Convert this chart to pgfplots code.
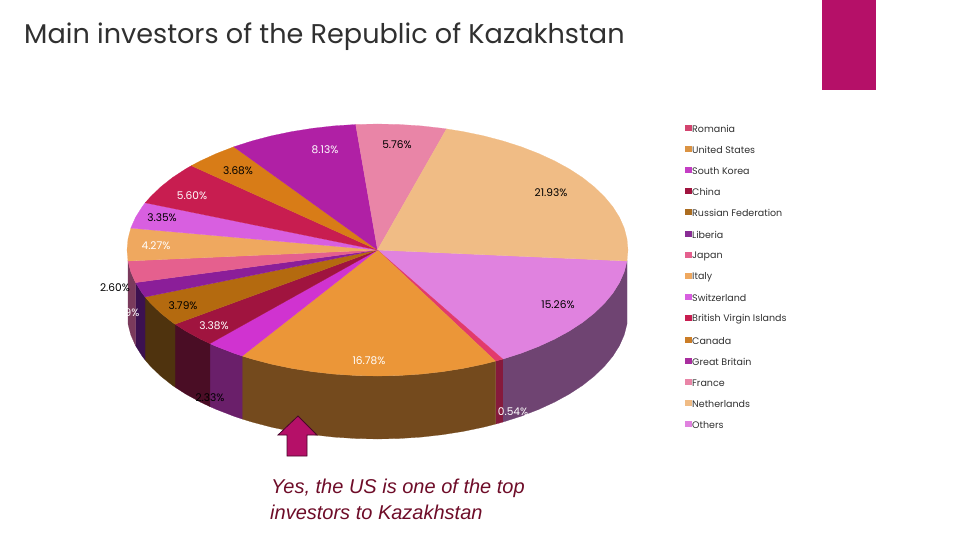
\documentclass[border=0pt]{standalone}
\usepackage{fontspec}
\setmainfont{Poppins}
\newfontfamily\arialf{Liberation Sans}
\usepackage{pgfplots}
\pgfplotsset{compat=1.18}
\definecolor{cOthers}{HTML}{E082DF}
\definecolor{cNeth}{HTML}{F0BC85}
\definecolor{cFrance}{HTML}{E985A7}
\definecolor{cGB}{HTML}{B020A5}
\definecolor{cCanada}{HTML}{D87C17}
\definecolor{cBVI}{HTML}{C81D50}
\definecolor{cSwitz}{HTML}{D85FE0}
\definecolor{cItaly}{HTML}{EFA85F}
\definecolor{cJapan}{HTML}{E5608E}
\definecolor{cLiberia}{HTML}{8B1E99}
\definecolor{cRussia}{HTML}{B46A0F}
\definecolor{cChina}{HTML}{A0143F}
\definecolor{cSK}{HTML}{D033D0}
\definecolor{cUS}{HTML}{EB9638}
\definecolor{cRomania}{HTML}{E23A6C}
\definecolor{sOthers}{HTML}{6F4472}
\definecolor{sRomania}{HTML}{861A3C}
\definecolor{sUS}{HTML}{744A1D}
\definecolor{sSK}{HTML}{6A1F6A}
\definecolor{sChina}{HTML}{4A0D25}
\definecolor{sRussia}{HTML}{4F330E}
\definecolor{sLiberia}{HTML}{3C1150}
\definecolor{sJapan}{HTML}{7A3A5C}
\definecolor{accent}{HTML}{B51068}
\definecolor{capt}{HTML}{6E0C28}
\definecolor{txt}{HTML}{303030}
\newcommand\lab[4][black]{\node[text=#1,font=\fontsize{10.6}{11}\selectfont,inner sep=0pt,anchor=center,yshift=-1pt] at (axis cs:#2,#3) {#4};}
\newcommand\leg[3]{\addplot[only marks,mark=square*,mark size=2.8pt,mark options={draw=#3,fill=#3,line width=0pt}] coordinates {(688.5,#1)};
\node[text=txt,font=\fontsize{9.5}{10}\selectfont,inner sep=0pt,anchor=west,yshift=-1pt] at (axis cs:692,#1) {#2};}
\begin{document}
\begin{tikzpicture}
\path[use as bounding box] (0,0) rectangle (960pt,540pt);
\begin{axis}[at={(0,0)},anchor=south west,scale only axis,width=960pt,height=540pt,xmin=0,xmax=960,ymin=0,ymax=540,y dir=reverse,axis lines=none,clip=false]
% side walls
\addplot[fill=sOthers,draw=sOthers,line width=0.2pt] coordinates {(627,261)(624.2,271.9)(619.5,282.6)(612.9,293.1)(604.5,303.2)(594.4,313)(582.7,322.3)(569.4,331)(554.6,339.1)(538.5,346.5)(521.2,353.2)(502.8,359.1)(502.8,422.1)(521.2,416.2)(538.5,409.5)(554.6,402.1)(569.4,394)(582.7,385.3)(594.4,376)(604.5,366.2)(612.9,356.1)(619.5,345.6)(624.2,334.9)(627,324)} -- cycle;
\addplot[fill=sRomania,draw=sRomania,line width=0.2pt] coordinates {(502.8,359.1)(495.5,361.1)(495.5,424.1)(502.8,422.1)} -- cycle;
\addplot[fill=sUS,draw=sUS,line width=0.2pt] coordinates {(495.5,361.1)(483.4,364.2)(463.2,368.4)(442.3,371.7)(421,374.1)(399.3,375.5)(377.5,376)(355.7,375.5)(334,374.1)(312.7,371.7)(291.8,368.4)(271.6,364.2)(252.2,359.1)(242.2,356)(242.2,419)(252.2,422.1)(271.6,427.2)(291.8,431.4)(312.7,434.7)(334,437.1)(355.7,438.5)(377.5,439)(399.3,438.5)(421,437.1)(442.3,434.7)(463.2,431.4)(483.4,427.2)(495.5,424.1)} -- cycle;
\addplot[fill=sSK,draw=sSK,line width=0.2pt] coordinates {(242.2,356)(233.8,353.2)(216.5,346.5)(209.9,343.6)(209.9,406.6)(216.5,409.5)(233.8,416.2)(242.2,419)} -- cycle;
\addplot[fill=sChina,draw=sChina,line width=0.2pt] coordinates {(209.9,343.6)(200.4,339.1)(185.6,331)(175.1,324.2)(175.1,387.2)(185.6,394)(200.4,402.1)(209.9,406.6)} -- cycle;
\addplot[fill=sRussia,draw=sRussia,line width=0.2pt] coordinates {(175.1,324.2)(172.3,322.3)(160.6,313)(150.5,303.2)(145.1,297)(145.1,360)(150.5,366.2)(160.6,376)(172.3,385.3)(175.1,387.2)} -- cycle;
\addplot[fill=sLiberia,draw=sLiberia,line width=0.2pt] coordinates {(145.1,297)(142.1,293.1)(135.5,282.6)(135.5,345.6)(142.1,356.1)(145.1,360)} -- cycle;
\addplot[fill=sJapan,draw=sJapan,line width=0.2pt] coordinates {(135.5,282.6)(130.8,271.9)(128,261)(128,324)(130.8,334.9)(135.5,345.6)} -- cycle;
% top slices
\addplot[fill=cOthers,draw=cOthers,line width=0.2pt] coordinates {(377.5,250)(627,261)(624.2,271.9)(619.5,282.6)(612.9,293.1)(604.5,303.2)(594.4,313)(582.7,322.3)(569.4,331)(554.6,339.1)(538.5,346.5)(521.2,353.2)(502.8,359.1)} -- cycle;
\addplot[fill=cRomania,draw=cRomania,line width=0.2pt] coordinates {(377.5,250)(502.8,359.1)(495.5,361.1)} -- cycle;
\addplot[fill=cUS,draw=cUS,line width=0.2pt] coordinates {(377.5,250)(495.5,361.1)(483.4,364.2)(463.2,368.4)(442.3,371.7)(421,374.1)(399.3,375.5)(377.5,376)(355.7,375.5)(334,374.1)(312.7,371.7)(291.8,368.4)(271.6,364.2)(252.2,359.1)(242.2,356)} -- cycle;
\addplot[fill=cSK,draw=cSK,line width=0.2pt] coordinates {(377.5,250)(242.2,356)(233.8,353.2)(216.5,346.5)(209.9,343.6)} -- cycle;
\addplot[fill=cChina,draw=cChina,line width=0.2pt] coordinates {(377.5,250)(209.9,343.6)(200.4,339.1)(185.6,331)(175.1,324.2)} -- cycle;
\addplot[fill=cRussia,draw=cRussia,line width=0.2pt] coordinates {(377.5,250)(175.1,324.2)(172.3,322.3)(160.6,313)(150.5,303.2)(145.1,297)} -- cycle;
\addplot[fill=cLiberia,draw=cLiberia,line width=0.2pt] coordinates {(377.5,250)(145.1,297)(142.1,293.1)(135.5,282.6)} -- cycle;
\addplot[fill=cJapan,draw=cJapan,line width=0.2pt] coordinates {(377.5,250)(135.5,282.6)(130.8,271.9)(128,261)} -- cycle;
\addplot[fill=cItaly,draw=cItaly,line width=0.2pt] coordinates {(377.5,250)(128,261)(127,250)(128,239)(130.8,228.1)} -- cycle;
\addplot[fill=cSwitz,draw=cSwitz,line width=0.2pt] coordinates {(377.5,250)(130.8,228.1)(135.5,217.4)(142.1,206.9)(145.2,202.8)} -- cycle;
\addplot[fill=cBVI,draw=cBVI,line width=0.2pt] coordinates {(377.5,250)(145.2,202.8)(150.5,196.8)(160.6,187)(172.3,177.7)(185.6,169)(191.3,165.7)} -- cycle;
\addplot[fill=cCanada,draw=cCanada,line width=0.2pt] coordinates {(377.5,250)(191.3,165.7)(200.4,160.9)(216.5,153.5)(233.8,146.8)} -- cycle;
\addplot[fill=cGB,draw=cGB,line width=0.2pt] coordinates {(377.5,250)(233.8,146.8)(252.2,140.9)(271.6,135.8)(291.8,131.6)(312.7,128.3)(334,125.9)(355.7,124.5)} -- cycle;
\addplot[fill=cFrance,draw=cFrance,line width=0.2pt] coordinates {(377.5,250)(355.7,124.5)(377.5,124)(399.3,124.5)(421,125.9)(442.3,128.3)(446.5,128.9)} -- cycle;
\addplot[fill=cNeth,draw=cNeth,line width=0.2pt] coordinates {(377.5,250)(446.5,128.9)(463.2,131.6)(483.4,135.8)(502.8,140.9)(521.2,146.8)(538.5,153.5)(554.6,160.9)(569.4,169)(582.7,177.7)(594.4,187)(604.5,196.8)(612.9,206.9)(619.5,217.4)(624.2,228.1)(627,239)(628,250)(627,261)} -- cycle;
% decoration
\addplot[fill=accent,draw=none] coordinates {(822,0)(876,0)(876,90)(822,90)} -- cycle;
\addplot[fill=accent,draw=black!60!accent,line width=0.8pt] coordinates {(298,416)(317,435)(307,435)(307,456)(287,456)(287,435)(278,435)} -- cycle;
% labels
\lab[white]{325}{149}{8.13\%}
\lab{397}{144}{5.76\%}
\lab{238}{170}{3.68\%}
\lab[white]{192}{195}{5.60\%}
\lab{551}{192}{21.93\%}
\lab{162}{217}{3.35\%}
\lab[white]{156}{245}{4.27\%}
\lab{115}{287}{2.60\%}
\lab[white]{132}{312}{9\%}
\lab{183}{305}{3.79\%}
\lab[white]{214}{325}{3.38\%}
\lab[white]{369}{360}{16.78\%}
\lab{210}{397}{2.33\%}
\lab[white]{513}{411}{0.54\%}
\lab{558}{304}{15.26\%}
% legend
\leg{128}{Romania}{cRomania!85!gray}
\leg{149}{United States}{cUS!85!gray}
\leg{170}{South Korea}{cSK!85!gray}
\leg{191}{China}{cChina}
\leg{212}{Russian Federation}{cRussia!85!gray}
\leg{234}{Liberia}{cLiberia!85!gray}
\leg{255}{Japan}{cJapan}
\leg{276}{Italy}{cItaly}
\leg{297}{Switzerland}{cSwitz}
\leg{318}{British Virgin Islands}{cBVI}
\leg{340}{Canada}{cCanada!85!gray}
\leg{361}{Great Britain}{cGB!85!gray}
\leg{382}{France}{cFrance}
\leg{403}{Netherlands}{cNeth}
\leg{424}{Others}{cOthers}
% title & caption
\node[text=txt,font=\fontsize{27.1}{32}\selectfont,inner sep=0pt,anchor=west] at (axis cs:24,37) {Main investors of the Republic of Kazakhstan};
\node[text=capt,font=\arialf\itshape\fontsize{20}{24}\selectfont,inner sep=0pt,anchor=west] at (axis cs:271,488) {Yes, the US is one of the top};
\node[text=capt,font=\arialf\itshape\fontsize{20}{24}\selectfont,inner sep=0pt,anchor=west] at (axis cs:270,512) {investors to Kazakhstan};
\end{axis}
\end{tikzpicture}
\end{document}
